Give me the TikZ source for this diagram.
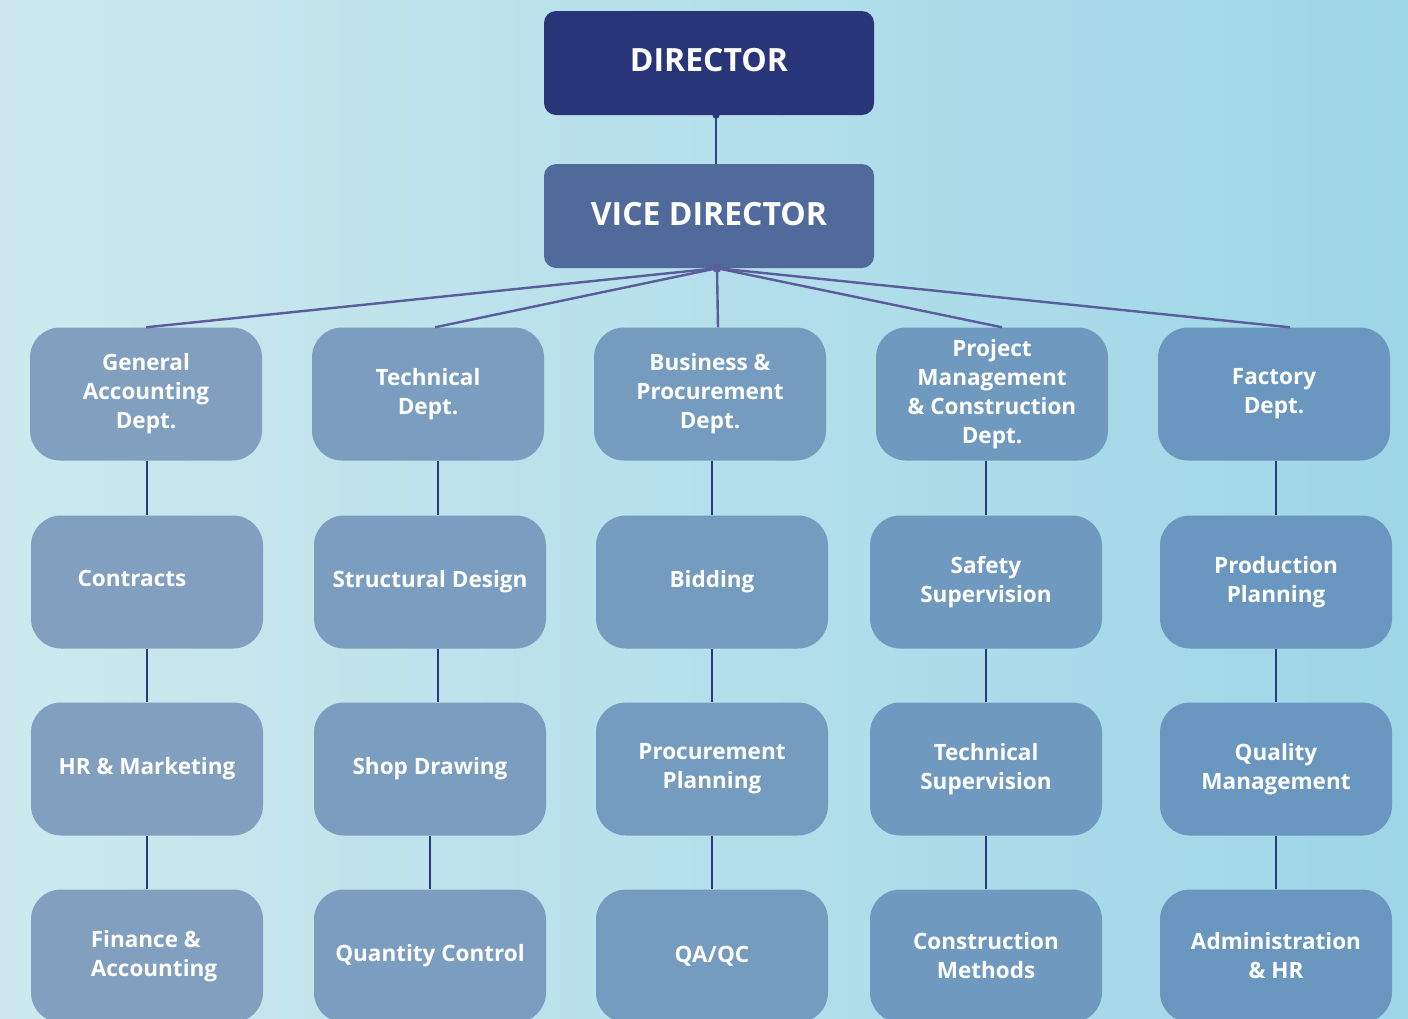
\documentclass[tikz,border=0pt]{standalone}
\usepackage{fontspec}
\setmainfont{Open Sans}
\usetikzlibrary{positioning}

\definecolor{dirblue}{HTML}{283579}
\definecolor{viceblue}{HTML}{516A9C}
\definecolor{boxleft}{HTML}{819FBF}
\definecolor{boxright}{HTML}{6A97C0}
\definecolor{bgleft}{HTML}{CDE9EE}
\definecolor{bgright}{HTML}{9DD6E7}
\definecolor{linkpurple}{HTML}{5B5C9C}
\definecolor{linknavy}{HTML}{293A7A}

\begin{document}
\begin{tikzpicture}[x=1pt, y=-1pt,
    head/.style={rounded corners=12pt, minimum width=330pt, minimum height=104pt,
      text=white, font=\bfseries\fontsize{32}{38}\selectfont, inner sep=0pt},
    unit/.style={rounded corners=30pt, minimum width=232pt, minimum height=133pt,
      fill=boxright!#1!boxleft, text=white, align=center, inner sep=0pt,
      font=\bfseries\fontsize{22.5}{29}\selectfont},
    unit/.default=0,
    fan/.style={linkpurple, line width=2.4pt},
    stem/.style={linknavy, line width=2.4pt}]
  \useasboundingbox (0,0) rectangle (1408,1018);
  \clip (0,0) rectangle (1408,1018);
  \shade[left color=bgleft, right color=bgright] (0,0) rectangle (1408,1018);

  % top of the chart
  \node[head, fill=dirblue] (dir) at (709,63) {\raisebox{6pt}{DIRECTOR}};
  \node[head, fill=viceblue] (vice) at (709,216) {\raisebox{4pt}{VICE DIRECTOR}};

  % departments
  \node[unit=0] (genacc) at (146,394) {General\\Accounting\\Dept.};
  \node[unit=25] (tech) at (428,394) {Technical\\Dept.};
  \node[unit=50] (busproc) at (710,394) {Business \&\\Procurement\\Dept.};
  \node[unit=75] (projman) at (992,394) {Project\\Management\\\& Construction\\Dept.};
  \node[unit=100] (factory) at (1274,394) {Factory\\Dept.};

  % second row
  \node[unit=0] (contracts) at (147,582) {\raisebox{7pt}{Contracts}\hspace*{30pt}};
  \node[unit=25] (structdes) at (430,582) {Structural Design};
  \node[unit=50] (bidding) at (712,582) {Bidding};
  \node[unit=75] (safety) at (986,582) {Safety\\Supervision};
  \node[unit=100] (prodplan) at (1276,582) {Production\\Planning};

  % third row
  \node[unit=0] (hrmkt) at (147,769) {HR \& Marketing};
  \node[unit=25] (shopdraw) at (430,769) {Shop Drawing};
  \node[unit=50] (procplan) at (712,769) {Procurement\\Planning};
  \node[unit=75] (techsup) at (986,769) {Technical\\Supervision};
  \node[unit=100] (quality) at (1276,769) {Quality\\Management};

  % fourth row
  \node[unit=0, align=left] (finacc) at (147,956) {\hspace*{14pt}Finance \&\\\hspace*{14pt}Accounting};
  \node[unit=25] (qtyctrl) at (430,956) {Quantity Control};
  \node[unit=50] (qaqc) at (712,956) {QA/QC};
  \node[unit=75] (constmeth) at (986,956) {Construction\\Methods};
  \node[unit=100] (adminhr) at (1276,956) {Administration\\\& HR};

  % links
  \draw[stem, linknavy!80!linkpurple] ([xshift=7pt]dir.south) -- ([xshift=7pt]vice.north);
  \fill[linknavy] ([xshift=7pt]dir.south) circle (3.5pt);
  \foreach \D/\S in {genacc/0, tech/7, busproc/8, projman/10, factory/16} {
    \draw[fan] ([xshift=8pt]vice.south) -- ([xshift=\S pt]\D.north);
  }
  \fill[linkpurple] ([xshift=8pt]vice.south) circle (4.5pt);
  \foreach \A/\B/\S in {genacc/contracts/0, contracts/hrmkt/0, hrmkt/finacc/0,
      tech/structdes/8, structdes/shopdraw/8, shopdraw/qtyctrl/0,
      busproc/bidding/0, bidding/procplan/0, procplan/qaqc/0,
      projman/safety/0, safety/techsup/0, techsup/constmeth/0,
      factory/prodplan/0, prodplan/quality/0, quality/adminhr/0} {
    \draw[stem] ([xshift=\S pt]\B.north |- \A.south) -- ([xshift=\S pt]\B.north);
  }
\end{tikzpicture}
\end{document}
